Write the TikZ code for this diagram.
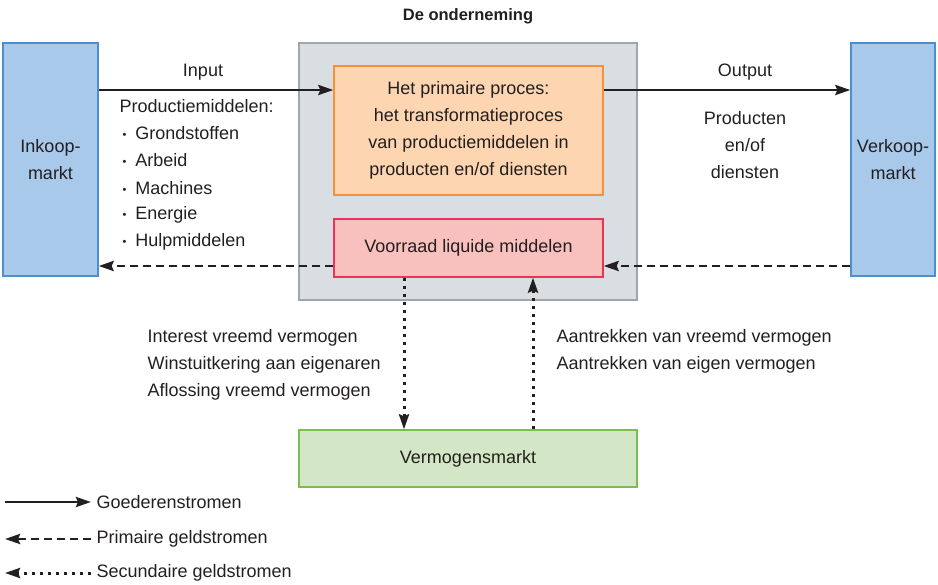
\documentclass[tikz,border=0pt]{standalone}
\usepackage{fontspec}
\setmainfont{Liberation Sans}
\usetikzlibrary{arrows.meta}
\definecolor{bluefill}{HTML}{A9C9EA}
\definecolor{blueline}{HTML}{4A90D0}
\definecolor{grayfill}{HTML}{D9DEE3}
\definecolor{grayline}{HTML}{9EA6AE}
\definecolor{orfill}{HTML}{FDD5B0}
\definecolor{orline}{HTML}{F39237}
\definecolor{pkfill}{HTML}{F8C1BD}
\definecolor{pkline}{HTML}{E8335A}
\definecolor{grfill}{HTML}{D3E6C5}
\definecolor{grline}{HTML}{78BE55}
\definecolor{txt}{HTML}{231F20}
\newcommand{\bul}{{\fontsize{11}{11}\selectfont\raisebox{1pt}{•}}\hspace{9pt}}
\begin{document}
\begin{tikzpicture}[x=1pt,y=-1pt,
  every node/.style={text=txt,font=\fontsize{18}{27}\selectfont},
  box/.style={draw,line width=1.3pt,inner sep=0pt,align=center},
  tip/.style={-{Stealth[length=15pt,width=10pt,inset=2pt]}},
  goods/.style={tip,line width=2.8pt,draw=txt},
  prim/.style={tip,line width=2.8pt,draw=txt,dash pattern=on 8pt off 5pt},
  sec/.style={tip,line width=3pt,draw=txt,dash pattern=on 3pt off 5pt}]
\useasboundingbox (0,0) rectangle (938,585);
% boxes
\node[box,fill=bluefill,draw=blueline,minimum width=95pt,minimum height=233pt] (ink) at (50.5,159.5) {Inkoop-\\markt};
\node[box,fill=bluefill,draw=blueline,minimum width=84pt,minimum height=233pt] (ver) at (893,159.5) {Verkoop-\\markt};
\node[box,fill=grayfill,draw=grayline,minimum width=338pt,minimum height=257pt] (ond) at (468,171.5) {};
\node[font=\fontsize{16.5}{20}\selectfont\bfseries] (title) at (468,16) {De onderneming};
\node[box,fill=orfill,draw=orline,minimum width=269pt,minimum height=129pt] (prim) at (468.5,130.5) {Het primaire proces:\\het transformatieproces\\van productiemiddelen in\\producten en/of diensten};
\node[box,fill=pkfill,draw=pkline,minimum width=269pt,minimum height=58pt] (liq) at (468.5,248) {Voorraad liquide middelen};
\node[box,fill=grfill,draw=grline,minimum width=338pt,minimum height=57pt] (verm) at (468,458.5) {Vermogensmarkt};
% goods flows
\draw[goods] (ink.east |- 0,90) coordinate (a1) -- (prim.west |- a1);
\draw[goods] (prim.east |- 0,90) coordinate (a2) -- (ver.west |- a2);
\node (in) at (203,72) {Input};
\node (out) at (745,72) {Output};
\node[anchor=west] (pm) at (116,106) {Productiemiddelen:};
\node[anchor=west] (b1) at (119,133) {\bul Grondstoffen};
\node[anchor=west] (b2) at (119,160) {\bul Arbeid};
\node[anchor=west] (b3) at (119,188) {\bul Machines};
\node[anchor=west] (b4) at (119,215) {\bul Energie};
\node[anchor=west] (b5) at (119,242) {\bul Hulpmiddelen};
\node[align=center] (prod) at (745,145) {Producten\\en/of\\diensten};
% primary money flows
\draw[prim] (liq.west |- 0,266) coordinate (c1) -- (ink.east |- c1);
\draw[prim] (ver.west |- 0,266) coordinate (c2) -- (liq.east |- c2);
% secondary flows
\draw[sec] (liq.south -| 404,0) coordinate (d1) -- (verm.north -| d1);
\draw[sec] (verm.north -| 533,0) coordinate (d2) -- (liq.south -| d2);
\node[anchor=west,align=left] (lt) at (144,365) {Interest vreemd vermogen\\Winstuitkering aan eigenaren\\Aflossing vreemd vermogen};
\node[anchor=west,align=left] (rt) at (553,351.5) {Aantrekken van vreemd vermogen\\Aantrekken van eigen vermogen};
% legend
\coordinate (l1a) at (5,502); \coordinate (l1b) at (91,502);
\draw[goods] (l1a) -- (l1b);
\node[anchor=west] (lg1) at (93,502) {Goederenstromen};
\coordinate (l2a) at (91,539); \coordinate (l2b) at (5,539);
\draw[prim] (l2a) -- (l2b);
\node[anchor=west] (lg2) at (93,539) {Primaire geldstromen};
\coordinate (l3a) at (91,573); \coordinate (l3b) at (5,573);
\draw[sec] (l3a) -- (l3b);
\node[anchor=west] (lg3) at (93,573) {Secundaire geldstromen};
\end{tikzpicture}
\end{document}
